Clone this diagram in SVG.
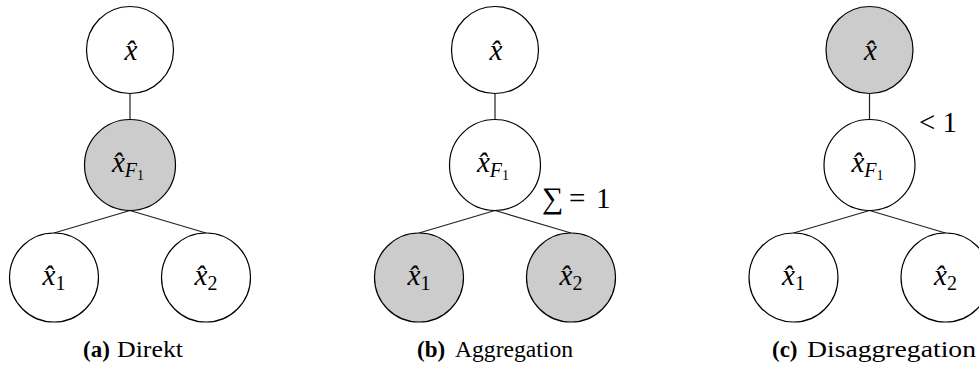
<svg xmlns="http://www.w3.org/2000/svg" width="979" height="367" viewBox="0 0 979 367">
<style>
.n{fill:#fff;stroke:#000;stroke-width:1.2}
.g{fill:#ccc;stroke:#000;stroke-width:1.2}
.e{stroke:#222;stroke-width:1.2;fill:none}
.m{font-family:"Liberation Serif","DejaVu Serif",serif;font-size:29px;font-style:italic;text-anchor:middle;fill:#000}
.s{font-size:20px}
.ss{font-size:14px;font-style:normal}
.r{font-style:normal}
.t{font-family:"Liberation Serif","DejaVu Serif",serif;font-size:29px;fill:#000}
.cap{font-family:"Liberation Serif","DejaVu Serif",serif;font-size:23px;fill:#000}
.b{font-weight:bold}
</style>
<rect width="979" height="367" fill="#fff"/>
<g id="connectors">
<path class="e" d="M130 93.5V119.5M130 210.5L54 233M130 210.5L206 233"/>
<path class="e" d="M495 93.5V119.5M495 210.5L419 233M495 210.5L571 233"/>
<path class="e" d="M869.5 93.5V119.5M869.5 210.5L793.5 233M869.5 210.5L945.5 233"/>
</g>
<!-- panel a -->
<g id="a-top"><circle class="n" cx="130" cy="50" r="43.5"/><text class="m" x="131" y="60">x̂</text></g>
<g id="a-mid"><circle class="g" cx="130" cy="165" r="45.5"/><text class="m" x="128" y="172">x̂<tspan class="s" dy="5">F</tspan><tspan class="ss" dy="3">1</tspan></text></g>
<g id="a-x1"><circle class="n" cx="54" cy="277.5" r="44.5"/><text class="m" x="54" y="285">x̂<tspan class="s r" dy="5">1</tspan></text></g>
<g id="a-x2"><circle class="n" cx="206" cy="277.5" r="44.5"/><text class="m" x="206" y="285">x̂<tspan class="s r" dy="5">2</tspan></text></g>
<!-- panel b -->
<g id="b-top"><circle class="n" cx="495" cy="50" r="43.5"/><text class="m" x="496" y="60">x̂</text></g>
<g id="b-mid"><circle class="n" cx="495" cy="165" r="45.5"/><text class="m" x="493" y="172">x̂<tspan class="s" dy="5">F</tspan><tspan class="ss" dy="3">1</tspan></text></g>
<g id="b-x1"><circle class="g" cx="419" cy="277.5" r="44.5"/><text class="m" x="419" y="285">x̂<tspan class="s r" dy="5">1</tspan></text></g>
<g id="b-x2"><circle class="g" cx="571" cy="277.5" r="44.5"/><text class="m" x="571" y="285">x̂<tspan class="s r" dy="5">2</tspan></text></g>
<text class="t" y="208"><tspan x="542" font-size="30">∑</tspan><tspan x="569">=</tspan><tspan x="596">1</tspan></text>
<!-- panel c -->
<g id="c-top"><circle class="g" cx="869.5" cy="50" r="43.5"/><text class="m" x="870.5" y="60">x̂</text></g>
<g id="c-mid"><circle class="n" cx="869.5" cy="165" r="45.5"/><text class="m" x="867.5" y="172">x̂<tspan class="s" dy="5">F</tspan><tspan class="ss" dy="3">1</tspan></text></g>
<g id="c-x1"><circle class="n" cx="793.5" cy="277.5" r="44.5"/><text class="m" x="793.5" y="285">x̂<tspan class="s r" dy="5">1</tspan></text></g>
<g id="c-x2"><circle class="n" cx="945.5" cy="277.5" r="44.5"/><text class="m" x="945.5" y="285">x̂<tspan class="s r" dy="5">2</tspan></text></g>
<text class="t" x="919" y="132">&lt; 1</text>
<!-- captions -->
<text class="cap" y="357"><tspan class="b" x="83">(a)</tspan><tspan x="117" textLength="66" lengthAdjust="spacingAndGlyphs">Direkt</tspan></text>
<text class="cap" y="357"><tspan class="b" x="417">(b)</tspan><tspan x="455" textLength="118" lengthAdjust="spacingAndGlyphs">Aggregation</tspan></text>
<text class="cap" y="357"><tspan class="b" x="772">(c)</tspan><tspan x="807" textLength="169" lengthAdjust="spacingAndGlyphs">Disaggregation</tspan></text>
</svg>
